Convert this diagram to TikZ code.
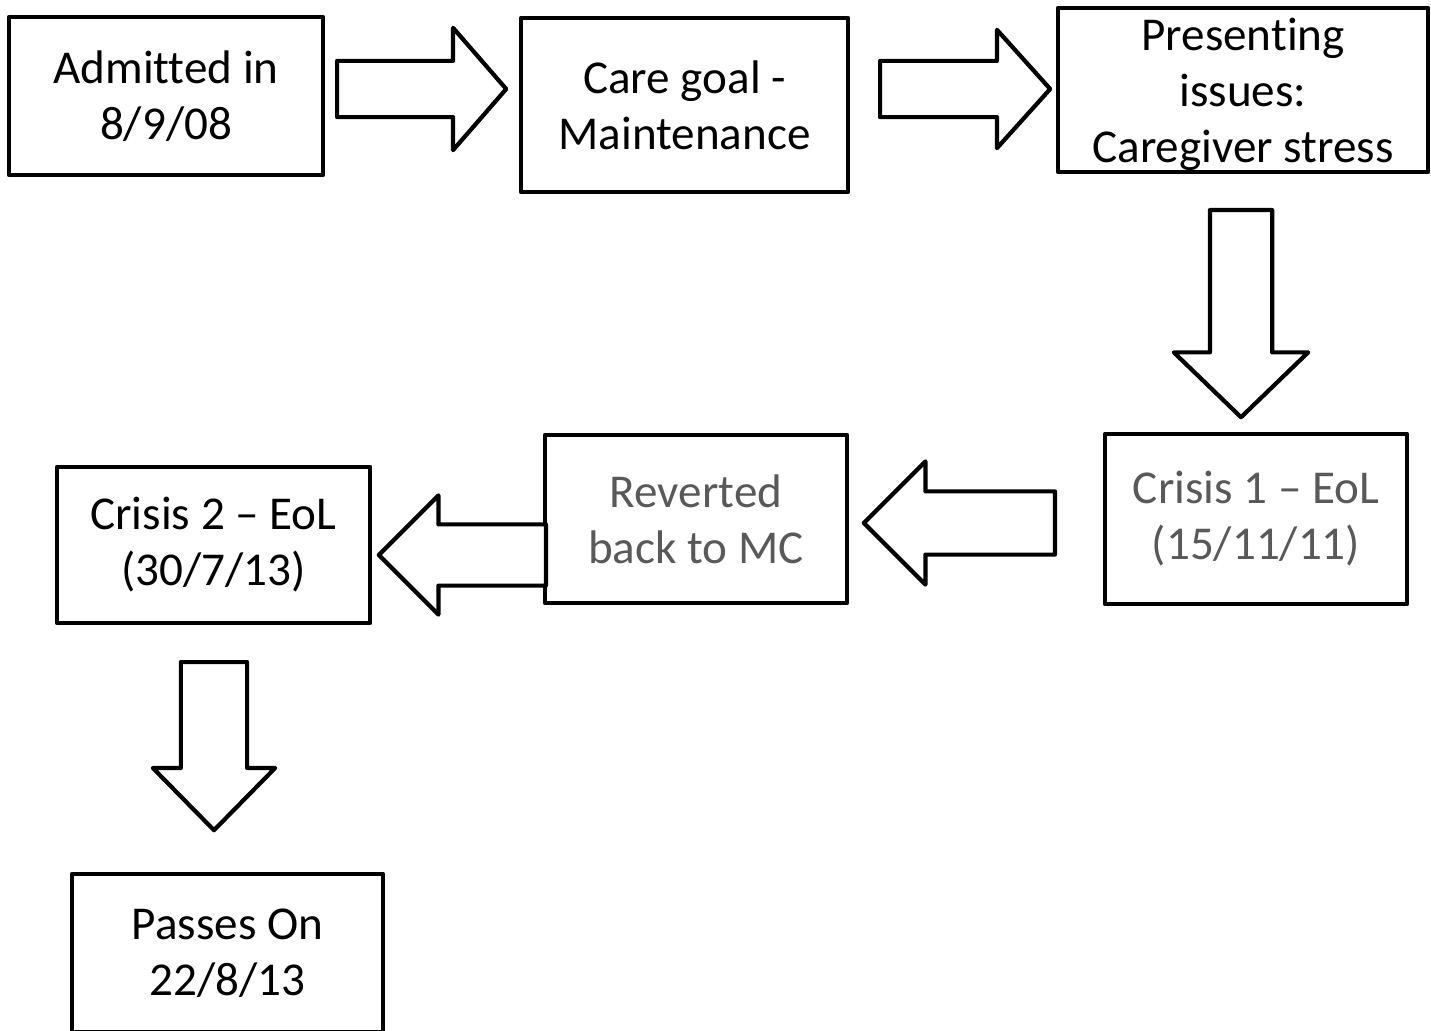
\documentclass[tikz,border=0pt]{standalone}
\usepackage{fontspec}
\setmainfont{Carlito}[Ligatures=NoCommon]
\usetikzlibrary{shapes.arrows}

\definecolor{softgray}{RGB}{89,89,89}

\begin{document}
\begin{tikzpicture}[
    x=0.01cm, y=-0.01cm,
    font=\fontsize{13.4pt}{15.9pt}\selectfont,
    box/.style={draw, line width=1.2pt, line join=round, align=center, inner sep=0pt},
    garr/.style={draw, fill=white, single arrow, line width=1.2pt, line join=round,
        inner xsep=0pt, single arrow head indent=0pt},
    soft/.style={text=softgray}
]
\useasboundingbox (0,0) rectangle (1431,1031);

% ------------------- ROW 1 -------------------
\node[box, minimum width=3.14cm, minimum height=1.58cm] (adm) at (166,96)
{Admitted in\\8/9/08};

\node[box, minimum width=3.27cm, minimum height=1.74cm] (goal) at (684.5,105)
{Care goal -\\Maintenance};

\node[box, minimum width=3.70cm, minimum height=1.64cm] (issues) at (1243,90) {};
\node[align=center] (issuestxt) at (1243,94) {Presenting\\issues:\\Caregiver stress};

\node[garr, anchor=tail, minimum height=1.69cm, inner ysep=0.26cm,
    single arrow head extend=0.33cm, single arrow tip angle=98] (a1) at (335,89) {};
\node[garr, anchor=tail, minimum height=1.70cm, inner ysep=0.26cm,
    single arrow head extend=0.31cm, single arrow tip angle=96] (a2) at (878,89) {};

% ------------------- ROW 2 -------------------
\node[garr, rotate=-90, anchor=tail, minimum height=2.07cm, inner ysep=0.29cm,
    single arrow head extend=0.36cm, single arrow tip angle=92] (d1) at (1241,208) {};

\node[box, soft, minimum width=3.02cm, minimum height=1.70cm] (crisis1) at (1256,519)
{Crisis 1 – EoL\\(15/11/11)};

\node[box, soft, minimum width=3.02cm, minimum height=1.68cm] (revert) at (696,519)
{Reverted\\back to MC};

\node[box, minimum width=3.13cm, minimum height=1.56cm] (crisis2) at (213.5,545)
{Crisis 2 – EoL\\(30/7/13)};

\node[garr, rotate=180, anchor=tail, minimum height=1.91cm, inner ysep=0.295cm,
    single arrow head extend=0.30cm, single arrow tip angle=90] (l1) at (1057,523) {};
\node[garr, rotate=180, anchor=tail, minimum height=1.67cm, inner ysep=0.285cm,
    single arrow head extend=0.29cm, single arrow tip angle=90] (l2) at (548,555) {};

% ------------------- ROW 3 -------------------
\node[garr, rotate=-90, anchor=tail, minimum height=1.68cm, inner ysep=0.31cm,
    single arrow head extend=0.28cm, single arrow tip angle=89] (d2) at (214,660) {};

\node[box, minimum width=3.11cm, minimum height=1.58cm] (passes) at (227.5,953)
{Passes On\\22/8/13};

\end{tikzpicture}
\end{document}
